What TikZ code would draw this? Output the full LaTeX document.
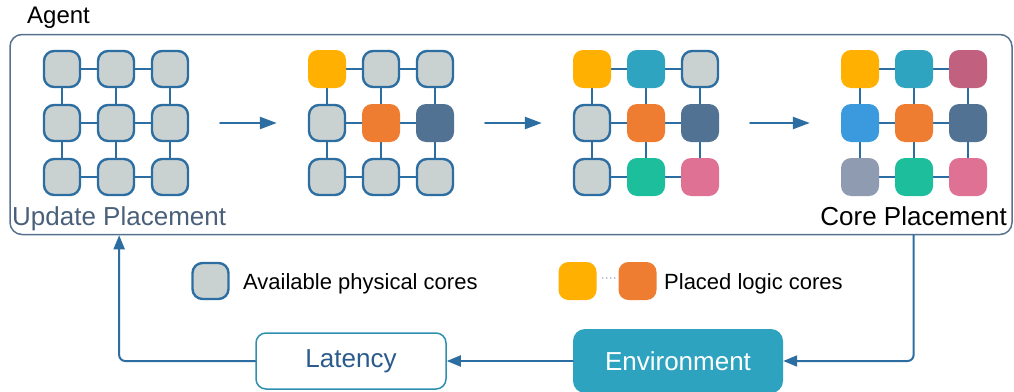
\documentclass[tikz,border=0pt]{standalone}
\usepackage{fontspec}
\setmainfont{Liberation Sans}
\usetikzlibrary{arrows.meta}

\definecolor{cfree}{HTML}{C9D2D1}
\definecolor{cblue}{HTML}{2D6EA2}
\definecolor{cslate}{HTML}{56718E}
\definecolor{ctext}{HTML}{4A5F7A}
\definecolor{cYel}{HTML}{FFB000}
\definecolor{cOrg}{HTML}{EE7D32}
\definecolor{cDrk}{HTML}{517293}
\definecolor{cTea}{HTML}{2EA4C0}
\definecolor{cGrn}{HTML}{1CBE9C}
\definecolor{cPnk}{HTML}{DE7194}
\definecolor{cMau}{HTML}{C1617F}
\definecolor{cBlu}{HTML}{3A9ADD}
\definecolor{cGry}{HTML}{8E9BB0}
\definecolor{cdots}{HTML}{A0AEC0}
\definecolor{clat}{HTML}{2E8FAE}
\definecolor{clattxt}{HTML}{2A5B8C}
\definecolor{cenv}{HTML}{2EA3BF}

% 3x3 grid of cores: name, left column x, list of nine cell styles
\newcommand{\coregrid}[3]{%
  \foreach \gr/\gn in {0/1,1/2}
    \foreach \gc in {0,1,2} {
      \draw[link] (#2+54*\gc,69+54*\gr) -- (#2+54*\gc,69+54*\gn);
      \draw[link] (#2+54*\gr,69+54*\gc) -- (#2+54*\gn,69+54*\gc);
    }
  \foreach \c [count=\i from 0] in {#3} {
    \pgfmathtruncatemacro{\gr}{\i/3}
    \pgfmathtruncatemacro{\gc}{mod(\i,3)}
    \node[cell, \c] (#1-\gr-\gc) at (#2+54*\gc, 69+54*\gr) {};
  }%
}

\begin{document}
\begin{tikzpicture}[x=1pt, y=-1pt, line cap=round, line join=round,
    cell/.style={rectangle, rounded corners=10, minimum size=38, inner sep=0, fill, draw=none},
    free/.style={fill=cfree, draw=cblue, line width=2.4, minimum size=36},
    link/.style={draw=cblue, line width=2.4},
    step arrow/.style={draw=cblue, line width=2.5, -{Triangle[length=17,width=12]}},
    flow/.style={draw=cblue, line width=2, -{Triangle[length=14,width=11]}},
    big/.style={font=\fontsize{26}{30}\selectfont, inner sep=0},
    lbl/.style={font=\fontsize{22}{26}\selectfont, inner sep=0, anchor=base west},
    agentbox/.style={draw=cslate, line width=1.5, rounded corners=12}]
  \useasboundingbox (0,0) rectangle (1014,391);

  % agent
  \node[agentbox, minimum width=1002, minimum height=200] (agent) at (511,134.5) {};
  \node[big, anchor=base west, font=\fontsize{24}{28}\selectfont] (agentlbl) at (27,23) {Agent};
  \node[big, anchor=base west, text=ctext] (upd) at (12,225) {Update Placement};
  \node[big, anchor=base east] (core) at (1007,225) {Core Placement};

  % placement steps
  \coregrid{g1}{62}{free,free,free,free,free,free,free,free,free}
  \coregrid{g2}{327}{cYel,free,free,free,cOrg,cDrk,free,free,free}
  \coregrid{g3}{592}{cYel,cTea,free,free,cOrg,cDrk,free,cGrn,cPnk}
  \coregrid{g4}{860}{cYel,cTea,cMau,cBlu,cOrg,cDrk,cGry,cGrn,cPnk}

  \draw[step arrow] ([xshift=31]g1-1-2.east) -- ([xshift=-31]g2-1-0.west);
  \draw[step arrow] ([xshift=31]g2-1-2.east) -- ([xshift=-31]g3-1-0.west);
  \draw[step arrow] ([xshift=31]g3-1-2.east) -- ([xshift=-31]g4-1-0.west);

  % legend
  \node[cell, free] (lfree) at (210.5,281) {};
  \node[lbl] (lfreetxt) at (243,289) {Available physical cores};
  \node[cell, cYel] (lyel) at (577.5,281) {};
  \node[cell, cOrg] (lorg) at (637.5,281) {};
  \draw[cdots, line width=1.6, dash pattern=on 0pt off 4pt, shorten <=6, shorten >=3]
    ([yshift=3]lyel.east) -- ([yshift=3]lorg.west);
  \node[lbl] (lorgtxt) at (664,289) {Placed logic cores};

  % environment loop
  \node[big, draw=clat, line width=1.5, rounded corners=10, fill=white, text=clattxt,
    minimum width=190, minimum height=56] (lat) at (351,361) {Latency};
  \node[big, fill=cenv, rounded corners=12, text=white,
    minimum width=210, minimum height=64] (env) at (678,361) {Environment};

  \draw[flow, rounded corners=6] (core.south |- agent.south) |- (env.east);
  \draw[flow] (env.west) -- (lat.east);
  \draw[flow, rounded corners=6] (lat.west) -| (upd.south |- agent.south);
\end{tikzpicture}
\end{document}
